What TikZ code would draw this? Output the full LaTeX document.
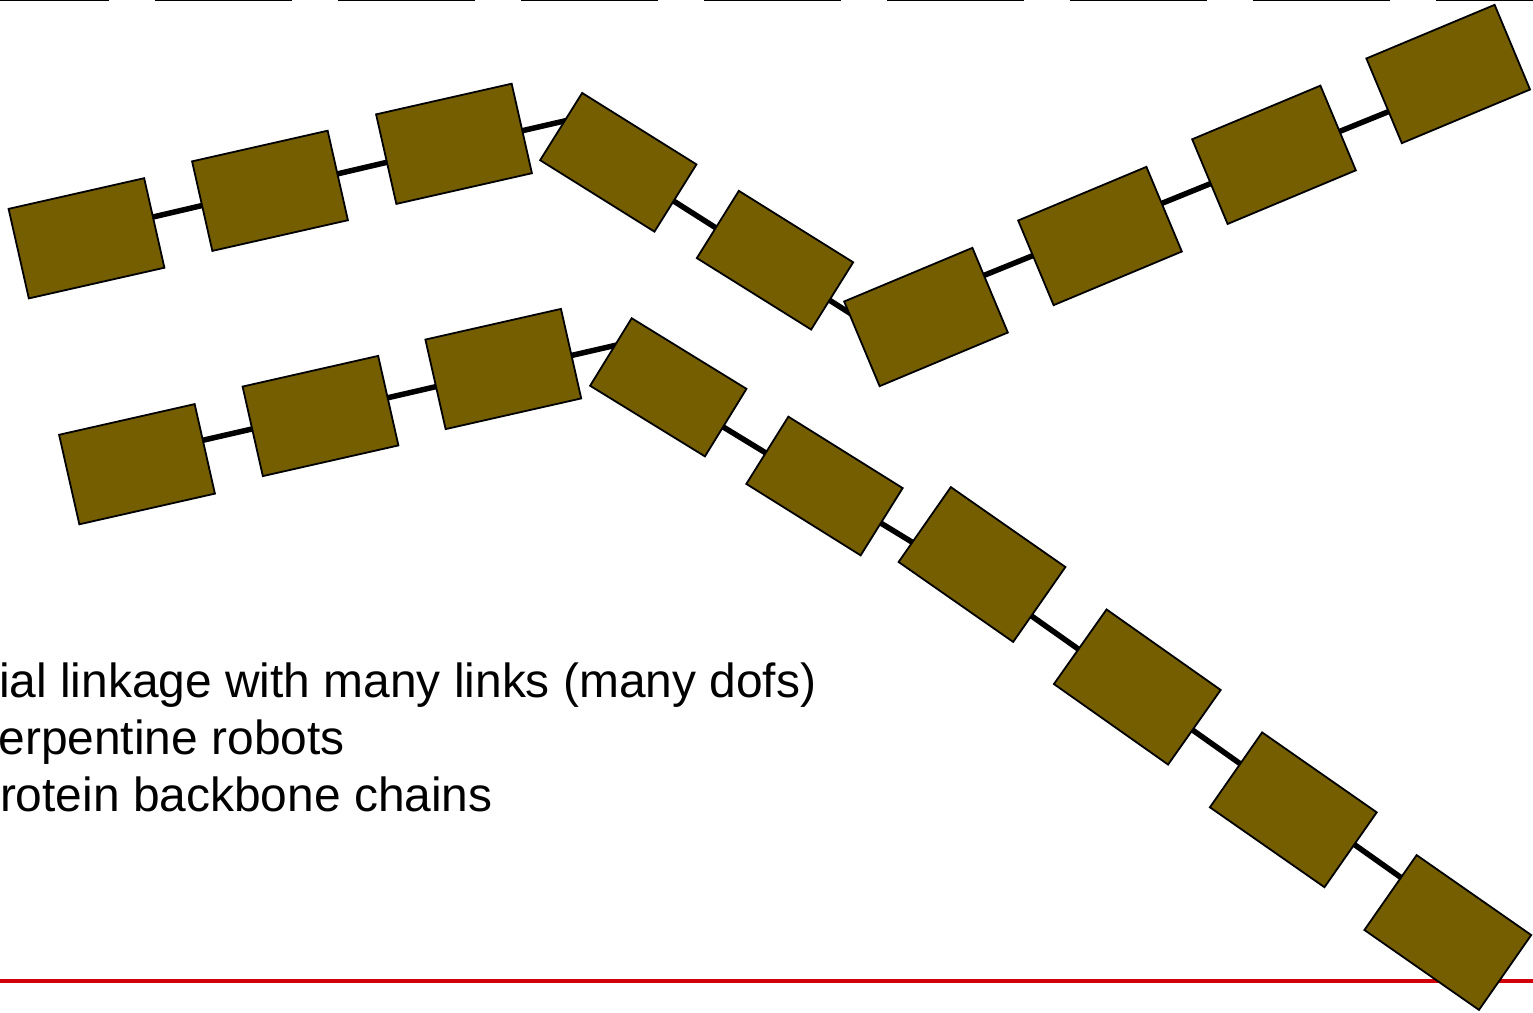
\documentclass[tikz,border=0pt]{standalone}
\usepackage{fontspec}
\setmainfont{Liberation Sans}
\usetikzlibrary{calc}
\pgfdeclarelayer{behind}
\pgfsetlayers{behind,main}
\definecolor{linkfill}{RGB}{117,94,0}
\definecolor{rulered}{RGB}{210,0,10}
\begin{document}
\begin{tikzpicture}[x=1pt,y=-1pt,
  linkbox/.style={draw=black, line width=1.8pt, fill=linkfill, inner sep=0pt, outer sep=0pt,
                  minimum width=139pt, minimum height=91.8pt},
  shortbox/.style={linkbox, minimum width=134.8pt, minimum height=79.3pt},
  longbox/.style={linkbox, minimum width=139.7pt, minimum height=91.3pt},
  jointline/.style={line width=5.5pt, black},
  bullettext/.style={anchor=base west, inner sep=0pt, outer sep=0pt,
                     font=\fontsize{47.9}{57}\selectfont}]
\useasboundingbox (0,0) rectangle (1533,1012);

% upper chain
\node[linkbox, rotate=12.75] (A1) at (86.5,238.3) {};
\node[linkbox, rotate=12.75] (A2) at (270,190.8) {};
\node[linkbox, rotate=12.75] (A3) at (454,143.8) {};
\node[shortbox, rotate=-32] (A4) at (618.3,162.3) {};
\node[shortbox, rotate=-32] (A5) at (775,260.2) {};
\node[linkbox, rotate=22.7] (A6) at (926,317) {};
\node[linkbox, rotate=22.7] (A7) at (1100,236) {};
\node[linkbox, rotate=22.7] (A8) at (1274,154.8) {};
\node[linkbox, rotate=22.7] (A9) at (1448.2,74) {};

% lower chain
\node[linkbox, rotate=12.75] (B1) at (137,464.2) {};
\node[linkbox, rotate=12.75] (B2) at (320.5,416) {};
\node[linkbox, rotate=12.75] (B3) at (503.3,369) {};
\node[shortbox, rotate=-31.6] (B4) at (668.3,387.3) {};
\node[shortbox, rotate=-32] (B5) at (824.5,486) {};
\node[longbox, rotate=-34.9] (B6) at (982,564.5) {};
\node[longbox, rotate=-35.2] (B7) at (1137.3,687) {};
\node[longbox, rotate=-34.9] (B8) at (1293.3,809.8) {};
\node[longbox, rotate=-34.9] (B9) at (1447.8,932.5) {};

\begin{pgfonlayer}{behind}
  % top dashed rule and bottom red rule
  \coordinate (tl) at (0,0);
  \coordinate (tr) at (1533,0);
  \draw[line width=2.5pt, dash pattern=on 137pt off 46pt, dash phase=28pt] (tl) -- (tr);
  \coordinate (bl) at (0,981);
  \coordinate (br) at (1533,981);
  \draw[rulered, line width=4pt] (bl) -- (br);

  % joints of the upper chain
  \draw[jointline] ($(A1.center)+(33.5,-13.6)$) -- ($(A2.center)+(-40,8.2)$);
  \draw[jointline] ($(A2.center)+(40,-10.5)$) -- ($(A3.center)+(-44,13.1)$);
  \draw[jointline] ($(A3.center)+(41,-6.8)$) -- ($(A4.center)+(-38.3,-44.9)$);
  \draw[jointline] ($(A4.center)+(31.7,23.7)$) -- ($(A5.center)+(-35,-17)$);
  \draw[jointline] ($(A5.center)+(30,24.4)$) -- ($(A6.center)+(-60,6.4)$);
  \draw[jointline] ($(A6.center)+(34,-31.9)$) -- ($(A7.center)+(-45,10.6)$);
  \draw[jointline] ($(A7.center)+(40,-23.8)$) -- ($(A8.center)+(-39,18.9)$);
  \draw[jointline] ($(A8.center)+(41,-13.4)$) -- ($(A9.center)+(-38.2,28.9)$);

  % joints of the lower chain
  \draw[jointline] ($(B1.center)+(33,-16.4)$) -- ($(B2.center)+(-45.5,7.7)$);
  \draw[jointline] ($(B2.center)+(34.5,-10.7)$) -- ($(B3.center)+(-43.3,12.1)$);
  \draw[jointline] ($(B3.center)+(36.7,-6.3)$) -- ($(B4.center)+(-38.3,-45.3)$);
  \draw[jointline] ($(B4.center)+(21.7,19.4)$) -- ($(B5.center)+(-34.5,-18.3)$);
  \draw[jointline] ($(B5.center)+(35.5,24.4)$) -- ($(B6.center)+(-47,-8.4)$);
  \draw[jointline] ($(B6.center)+(23,32.7)$) -- ($(B7.center)+(-27.3,-15.5)$);
  \draw[jointline] ($(B7.center)+(27.7,23.5)$) -- ($(B8.center)+(-28.3,-28.5)$);
  \draw[jointline] ($(B8.center)+(26.7,10.4)$) -- ($(B9.center)+(-27.8,-41.5)$);
\end{pgfonlayer}

% text
\node[bullettext] (t1) at (-1,697) {ial linkage with many links (many dofs)};
\node[bullettext] (t2) at (-1.5,754) {erpentine robots};
\node[bullettext] (t3) at (0,811) {rotein backbone chains};

\end{tikzpicture}
\end{document}
